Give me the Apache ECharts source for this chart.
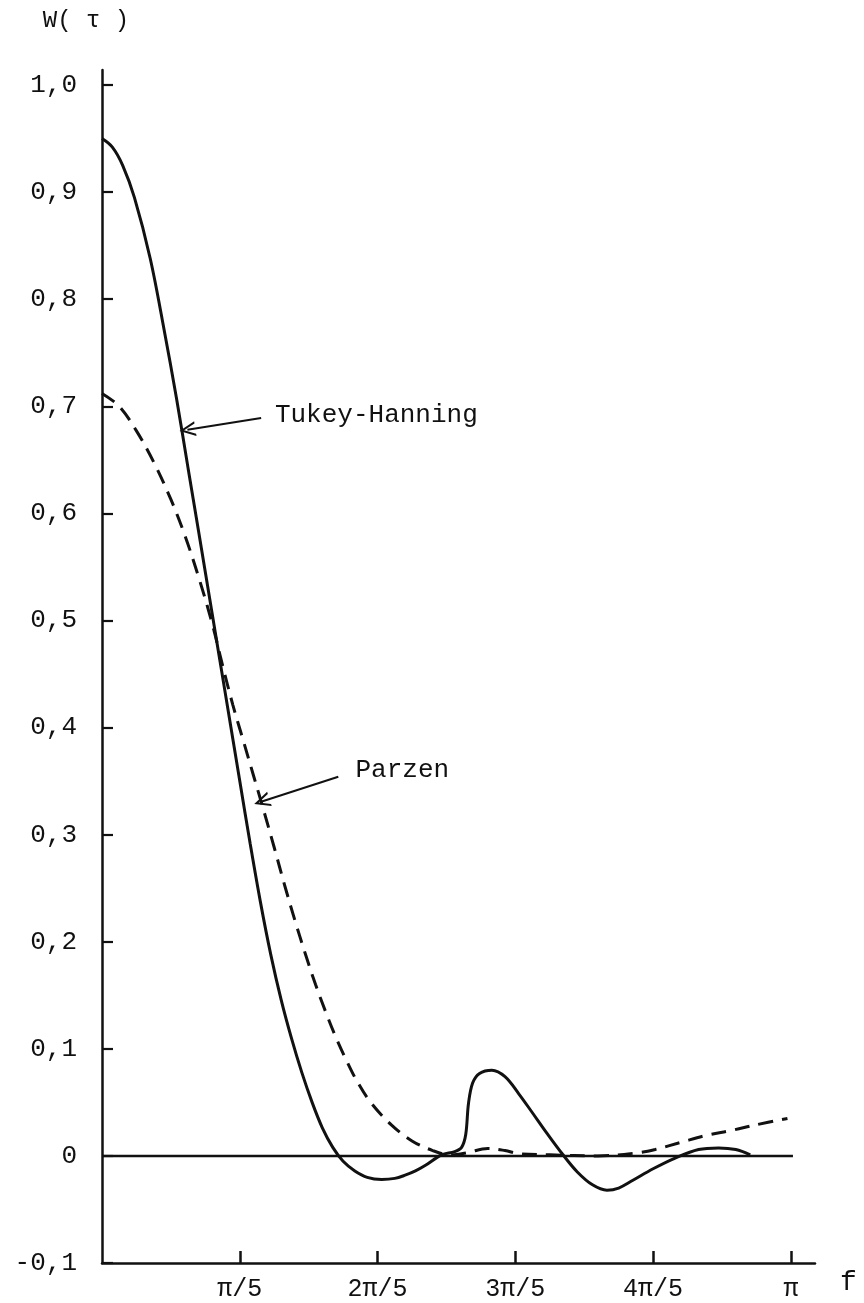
<!DOCTYPE html>
<html>
<head>
<meta charset="utf-8">
<script src="https://cdn.jsdelivr.net/npm/echarts@6/dist/echarts.min.js"></script>
<style>
html,body{margin:0;padding:0;background:#fff;}
#chart{width:864px;height:1303px;}
</style>
</head>
<body>
<div id="chart"></div>
<script>
// x in units of pi (f/pi), y = W(tau)
const xTickValues = [0.2, 0.4, 0.6, 0.8, 1.0];
const xTickLabels = ['π/5', '2π/5', '3π/5', '4π/5', 'π'];
const yTickValues = [-0.1, 0, 0.1, 0.2, 0.3, 0.4, 0.5, 0.6, 0.7, 0.8, 0.9, 1.0];
const yTickLabels = ['-0,1', '0', '0,1', '0,2', '0,3', '0,4', '0,5', '0,6', '0,7', '0,8', '0,9', '1,0'];

const tukeyHanning = [
  [0, 0.950], [0.015, 0.942], [0.030, 0.925], [0.047, 0.895], [0.070, 0.838],
  [0.090, 0.772], [0.108, 0.708], [0.125, 0.642], [0.140, 0.584], [0.160, 0.506],
  [0.180, 0.428], [0.200, 0.350], [0.215, 0.292], [0.230, 0.237], [0.245, 0.188],
  [0.260, 0.146], [0.275, 0.110], [0.290, 0.078], [0.305, 0.050], [0.320, 0.026],
  [0.335, 0.008], [0.350, -0.005], [0.367, -0.014], [0.385, -0.020], [0.406, -0.022],
  [0.425, -0.021], [0.440, -0.018], [0.455, -0.014], [0.469, -0.009], [0.493, 0.001],
  [0.512, 0.004], [0.522, 0.008], [0.528, 0.020], [0.532, 0.049], [0.538, 0.068],
  [0.548, 0.077], [0.566, 0.080], [0.585, 0.074], [0.605, 0.058], [0.624, 0.041],
  [0.646, 0.021], [0.668, 0.002], [0.690, -0.015], [0.712, -0.027], [0.733, -0.032],
  [0.750, -0.030], [0.770, -0.023], [0.800, -0.012], [0.832, -0.002], [0.866, 0.006],
  [0.895, 0.0075], [0.920, 0.006], [0.941, 0.001]
];

const parzen = [
  [0, 0.712], [0.025, 0.700], [0.050, 0.677], [0.075, 0.648], [0.100, 0.613],
  [0.120, 0.580], [0.140, 0.541], [0.160, 0.497], [0.175, 0.458], [0.190, 0.421],
  [0.205, 0.388], [0.220, 0.355], [0.235, 0.322], [0.250, 0.288], [0.265, 0.253],
  [0.280, 0.220], [0.295, 0.189], [0.310, 0.160], [0.325, 0.134], [0.340, 0.110],
  [0.355, 0.089], [0.370, 0.070], [0.390, 0.050], [0.420, 0.029], [0.450, 0.014],
  [0.480, 0.005], [0.505, 0.001], [0.530, 0.003], [0.560, 0.007], [0.585, 0.005],
  [0.605, 0.002], [0.650, 0.001], [0.720, 0.000], [0.779, 0.003], [0.803, 0.006],
  [0.842, 0.013], [0.876, 0.019], [0.915, 0.024], [0.949, 0.029], [0.995, 0.035]
];

const zeroLine = [[0, 0], [1.003, 0]];

// annotation anchors (data coords): text position, arrow start, arrow tip
const tukeyNote = { text: 'Tukey-Hanning', at: [0.251, 0.692], from: [0.231, 0.689], to: [0.124, 0.678] };
const parzenNote = { text: 'Parzen', at: [0.368, 0.360], from: [0.343, 0.354], to: [0.232, 0.331] };

const FONT = 'Liberation Mono';
const INK = '#111';
const openArrow = 'path://M5,0 L10,11 L8.5,11 L5,3.2 L1.5,11 L0,11 Z';

function lookup(values, labels, v) {
  for (let i = 0; i < values.length; i++) {
    if (Math.abs(values[i] - v) < 1e-6) return labels[i];
  }
  return '';
}

function note(n) {
  return {
    markLine: {
      silent: true,
      animation: false,
      symbol: ['none', openArrow],
      symbolSize: [15, 16],
      lineStyle: { color: INK, width: 2, type: 'solid' },
      label: { show: false },
      data: [[{ coord: n.from }, { coord: n.to }]]
    },
    markPoint: {
      silent: true,
      animation: false,
      symbol: 'circle',
      symbolSize: 0,
      label: {
        show: true, position: 'right', distance: 0,
        formatter: n.text, color: INK, fontFamily: FONT, fontSize: 26
      },
      data: [{ coord: n.at }]
    }
  };
}

const chart = echarts.init(document.getElementById('chart'), null, { renderer: 'canvas' });
chart.setOption({
  animation: false,
  backgroundColor: '#fff',
  grid: { left: 102, right: 49, top: 70, bottom: 40, containLabel: false },
  xAxis: {
    type: 'value', min: 0, max: 1.035,
    name: 'f', nameLocation: 'end', nameGap: 25,
    nameTextStyle: { color: INK, fontFamily: FONT, fontSize: 28, verticalAlign: 'top', padding: [6, 0, 0, 0] },
    axisLine: { show: true, onZero: false, lineStyle: { color: INK, width: 2.5 } },
    axisTick: { show: true, inside: true, length: 12, customValues: xTickValues, lineStyle: { color: INK, width: 2.5 } },
    axisLabel: {
      show: true, customValues: xTickValues, margin: 14,
      color: INK, fontFamily: FONT, fontSize: 25,
      formatter: v => lookup(xTickValues, xTickLabels, v)
    },
    splitLine: { show: false }
  },
  yAxis: {
    type: 'value', min: -0.1, max: 1.014,
    name: 'W( τ )', nameLocation: 'end', nameGap: 37,
    nameTextStyle: { color: INK, fontFamily: FONT, fontSize: 24, align: 'center', padding: [0, 32, 0, 0] },
    axisLine: { show: true, onZero: false, lineStyle: { color: INK, width: 2.5 } },
    axisTick: { show: true, inside: true, length: 11, customValues: yTickValues, lineStyle: { color: INK, width: 2.2 } },
    axisLabel: {
      show: true, customValues: yTickValues, margin: 25,
      color: INK, fontFamily: FONT, fontSize: 26,
      formatter: v => lookup(yTickValues, yTickLabels, v)
    },
    splitLine: { show: false }
  },
  series: [
    {
      name: 'zero', type: 'line', data: zeroLine, showSymbol: false, silent: true,
      lineStyle: { color: INK, width: 2.5 }, z: 1
    },
    Object.assign({
      name: 'Tukey-Hanning', type: 'line', data: tukeyHanning, smooth: 0.35, showSymbol: false,
      lineStyle: { color: INK, width: 3 }, z: 3
    }, note(tukeyNote)),
    Object.assign({
      name: 'Parzen', type: 'line', data: parzen, smooth: 0.35, showSymbol: false,
      lineStyle: { color: INK, width: 3, type: [15, 9] }, z: 2
    }, note(parzenNote))
  ]
});
</script>
</body>
</html>
